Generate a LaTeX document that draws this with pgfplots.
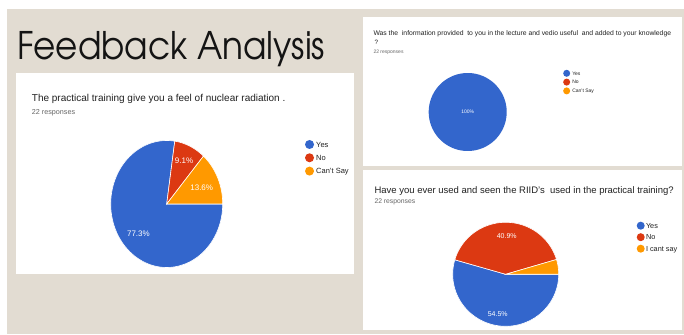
\documentclass[border=0pt]{standalone}
\usepackage{pgfplots}
\pgfplotsset{compat=1.18}
\usepackage{fontspec}
\setmainfont{Liberation Sans}
\newfontfamily\adv{texgyreadventor-regular.otf}
\definecolor{beige}{HTML}{E2DCD2}
\definecolor{gblue}{HTML}{3366CC}
\definecolor{gred}{HTML}{DC3912}
\definecolor{gorange}{HTML}{FF9900}
\definecolor{ttl}{HTML}{212121}
\definecolor{sub}{HTML}{666666}
\newcommand\fs[1]{\fontsize{#1}{#1}\selectfont}
\pgfplotsset{
 pie/.style={hide axis, xmin=-1,xmax=1,ymin=-1,ymax=1, clip=false, anchor=center,
   legend cell align=left,
   legend style={draw=none, fill=none, anchor=north west, inner sep=0pt, outer sep=0pt,
     nodes={inner sep=0pt, text depth=0pt, text=ttl}}},
 slice/.style={fill=#1, draw=white, line width=0.6pt, samples=90},
}
\begin{document}
\begin{tikzpicture}[x=1pt,y=1pt]
% shares (percent), laid clockwise from 3 o'clock
\pgfmathsetmacro\pA{360-3.6*77.3}% Yes 77.3
\pgfmathsetmacro\pB{\pA-3.6*9.1}% No 9.1, Can't Say 13.6
\pgfmathsetmacro\qA{360-3.6*54.5}% Yes 54.5
\pgfmathsetmacro\qB{\qA-3.6*40.9}% No 40.9, I cant say 4.6
\fill[white] (0,0) rectangle (684,334);
\fill[beige] (7,0) rectangle (684,325);
\fill[white] (16,60) rectangle (354,261);
\fill[white] (363,167.5) rectangle (682,316.5);
\fill[white] (363,3.5) rectangle (682,164);
\node[anchor=base west, inner sep=0pt, text=black!92, font=\adv\fs{38}, xscale=0.9] at (17,274.7) {Feedback Analysis};
% panel 1 texts
\node[anchor=base west, inner sep=0pt, text=ttl, font=\fs{10}] at (31.7,232.3) {The practical training give you a feel of nuclear radiation .};
\node[anchor=base west, inner sep=0pt, text=sub, font=\fs{7.2}] at (31.7,219) {22 responses};
% panel 2 texts
\node[anchor=base west, inner sep=0pt, text=ttl, font=\fs{6.8}] at (373.3,298.3) {Was the\ \ information provided\ \ to you in the lecture and vedio useful\ \ and added to your knowledge};
\node[anchor=base west, inner sep=0pt, text=ttl, font=\fs{6.3}] at (374.5,289.6) {?};
\node[anchor=base west, inner sep=0pt, text=sub, font=\fs{5}] at (373.3,280.4) {22 responses};
% panel 3 texts
\node[anchor=base west, inner sep=0pt, text=ttl, font=\fs{9.5}] at (374.3,140.7) {Have you ever used and seen the RIID's\ \ used in the practical training?};
\node[anchor=base west, inner sep=0pt, text=sub, font=\fs{6.8}] at (374.3,130.7) {22 responses};

\begin{axis}[pie, at={(166.7pt,130pt)}, x=56pt, y=63.5pt,
  legend style={at={(1.735,1.004)}, font=\fs{7.5}, row sep=4.3pt, column sep=2.2pt},
  legend image code/.code={\fill[#1,draw=none] (0pt,0pt) circle (4.5pt);}]
\addplot[slice=gblue, domain=\pA:360] ({cos(x)},{sin(x)}) -- (0,0) -- cycle;
\addlegendentry{Yes}
\addplot[slice=gred, domain=\pB:\pA] ({cos(x)},{sin(x)}) -- (0,0) -- cycle;
\addlegendentry{No}
\addplot[slice=gorange, domain=0:\pB] ({cos(x)},{sin(x)}) -- (0,0) -- cycle;
\addlegendentry{Can't Say}
\node[text=white, font=\fs{8}] at (axis cs:-0.505,-0.462) {77.3\%};
\node[text=white, font=\fs{8}] at (axis cs:0.309,0.682) {9.1\%};
\node[text=white, font=\fs{8}] at (axis cs:0.625,0.263) {13.6\%};
\end{axis}

\begin{axis}[pie, at={(467.7pt,222pt)}, x=39pt, y=39pt,
  legend style={at={(1.724,1.041)}, font=\fs{5}, row sep=1.8pt, column sep=2.1pt},
  legend image code/.code={\fill[#1,draw=none] (0pt,0pt) circle (3.5pt);}]
\addplot[fill=gblue, draw=none, domain=0:360, samples=120] ({cos(x)},{sin(x)}) -- cycle;
\addlegendentry{Yes}
\addlegendimage{fill=gred}
\addlegendentry{No}
\addlegendimage{fill=gorange}
\addlegendentry{Can't Say}
\node[text=white, font=\fs{5}] at (axis cs:0,0) {100\%};
\end{axis}

\begin{axis}[pie, at={(505.7pt,59.7pt)}, x=53pt, y=52pt,
  legend style={at={(1.736,1.006)}, font=\fs{7.3}, row sep=3.5pt, column sep=1.3pt},
  legend image code/.code={\fill[#1,draw=none] (0pt,0pt) circle (4pt);}]
\addplot[slice=gblue, domain=\qA:360] ({cos(x)},{sin(x)}) -- (0,0) -- cycle;
\addlegendentry{Yes}
\addplot[slice=gred, domain=\qB:\qA] ({cos(x)},{sin(x)}) -- (0,0) -- cycle;
\addlegendentry{No}
\addplot[slice=gorange, domain=0:\qB] ({cos(x)},{sin(x)}) -- (0,0) -- cycle;
\addlegendentry{I cant say}
\node[text=white, font=\fs{7}] at (axis cs:0.019,0.742) {40.9\%};
\node[text=white, font=\fs{7}] at (axis cs:-0.151,-0.758) {54.5\%};
\end{axis}
\pgfresetboundingbox
\useasboundingbox (0,0) rectangle (684,334);
\end{tikzpicture}
\end{document}
